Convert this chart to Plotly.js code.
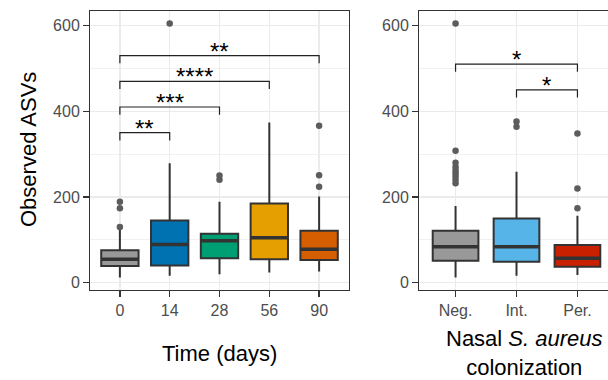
<!DOCTYPE html>
<html><head><meta charset="utf-8">
<script src="https://cdn.plot.ly/plotly-3.0.1.min.js"></script>
<style>html,body{margin:0;padding:0;overflow:hidden;background:#fff}#chart{width:620px;height:380px}</style>
</head><body><div id="chart"></div>
<script>
// ---- Data: time panel ----
var timeCats = ['0', '14', '28', '56', '90'];
var timeColors = ['#999999', '#0072B2', '#009E73', '#E69F00', '#D55E00'];
var timeQ1  = [39, 40, 57, 55, 53];
var timeMed = [55, 89, 98, 105, 78];
var timeQ3  = [76, 145, 114, 185, 121];
var timeLo  = [12, 16, 20, 24, 26];
var timeHi  = [123, 279, 189, 374, 201];
var timeOutliers = [[189, 174, 130], [605], [250, 240], [], [366, 251, 224]];
var timeBrStart = [0, 0, 0, 0];
var timeBrEnd   = [1, 2, 3, 4];
var timeBrY     = [350, 410, 470, 530];
var timeBrLabel = ['**', '***', '****', '**'];

// ---- Data: colonization panel ----
var colCats = ['Neg.', 'Int.', 'Per.'];
var colColors = ['#999999', '#56B4E9', '#C92100'];
var colQ1  = [51, 49, 37];
var colMed = [84, 84, 57];
var colQ3  = [121, 150, 88];
var colLo  = [12, 16, 18];
var colHi  = [179, 259, 156];
var colOutliers = [[605, 308, 280, 270, 262, 255, 248, 240, 232], [376, 364], [348, 220, 174]];
var colBrStart = [0, 1];
var colBrEnd   = [2, 2];
var colBrY     = [510, 450];
var colBrLabel = ['*', '*'];

var FONT = 'Liberation Sans, Arial, Helvetica, sans-serif';
var BOXW = 0.75, TIP = 18;
var traces = [], annotations = [];

function panel(cats, colors, q1, med, q3, lo, hi, outl, bs, be, by, bl, xa, ya) {
  for (var i = 0; i < cats.length; i++) {
    traces.push({type: 'box', x: [i], q1: [q1[i]], median: [med[i]], q3: [q3[i]],
      lowerfence: [lo[i]], upperfence: [hi[i]], width: BOXW, whiskerwidth: 0,
      fillcolor: colors[i], line: {color: '#333333', width: 2}, boxpoints: false,
      xaxis: xa, yaxis: ya, showlegend: false, hoverinfo: 'skip'});
    traces.push({type: 'scatter', mode: 'lines', x: [i - BOXW / 2, i + BOXW / 2], y: [med[i], med[i]],
      line: {color: '#333333', width: 3.5}, xaxis: xa, yaxis: ya, showlegend: false, hoverinfo: 'skip'});
    if (outl[i].length) {
      traces.push({type: 'scatter', mode: 'markers', x: outl[i].map(function () { return i; }), y: outl[i],
        marker: {color: '#5c5c5c', size: 6.5}, xaxis: xa, yaxis: ya, showlegend: false, hoverinfo: 'skip'});
    }
  }
  for (var k = 0; k < bs.length; k++) {
    traces.push({type: 'scatter', mode: 'lines', x: [bs[k], bs[k], be[k], be[k]],
      y: [by[k] - TIP, by[k], by[k], by[k] - TIP], line: {color: '#222222', width: 1.2},
      xaxis: xa, yaxis: ya, showlegend: false, hoverinfo: 'skip'});
    annotations.push({text: bl[k], x: (bs[k] + be[k]) / 2, y: by[k], xref: xa, yref: ya,
      showarrow: false, yanchor: 'bottom', yshift: -11, font: {family: FONT, size: 24, color: '#000'}});
  }
}
panel(timeCats, timeColors, timeQ1, timeMed, timeQ3, timeLo, timeHi, timeOutliers,
      timeBrStart, timeBrEnd, timeBrY, timeBrLabel, 'x', 'y');
panel(colCats, colColors, colQ1, colMed, colQ3, colLo, colHi, colOutliers,
      colBrStart, colBrEnd, colBrY, colBrLabel, 'x2', 'y2');

var W = 620, H = 380;
function xax(dom, cats, anchor) {
  return {domain: dom, range: [-0.6, cats.length - 0.4], tickmode: 'array',
    tickvals: cats.map(function (c, i) { return i; }), ticktext: cats,
    showgrid: true, gridcolor: '#EBEBEB', gridwidth: 1.4, zeroline: false,
    ticks: 'outside', ticklen: 6, tickwidth: 1.4, tickcolor: '#333333',
    showline: true, mirror: true, linecolor: '#333333', linewidth: 1,
    tickfont: {family: FONT, size: 16, color: '#4D4D4D'}, anchor: anchor, fixedrange: true};
}
function yax(anchor) {
  return {domain: [90 / H, 369 / H], range: [-17, 634], tick0: 0, dtick: 200,
    minor: {dtick: 100, showgrid: true, gridcolor: '#EBEBEB', gridwidth: 0.7},
    showgrid: true, gridcolor: '#EBEBEB', gridwidth: 1.4, zeroline: false,
    ticks: 'outside', ticklen: 6, tickwidth: 1.4, tickcolor: '#333333',
    showline: true, mirror: true, linecolor: '#333333', linewidth: 1,
    tickfont: {family: FONT, size: 16, color: '#4D4D4D'}, anchor: anchor, fixedrange: true};
}

annotations.push({text: 'Observed ASVs', x: 28 / W, y: (H - 150) / H, xref: 'paper', yref: 'paper',
  textangle: -90, showarrow: false, xanchor: 'center', yanchor: 'middle',
  font: {family: FONT, size: 22, color: '#000'}});
annotations.push({text: 'Time (days)', x: 219.5 / W, y: (H - 353) / H, xref: 'paper', yref: 'paper',
  showarrow: false, xanchor: 'center', yanchor: 'middle', font: {family: FONT, size: 22, color: '#000'}});
annotations.push({text: 'Nasal <i>S. aureus</i><br>colonization', x: 524 / W, y: (H - 353) / H,
  xref: 'paper', yref: 'paper', showarrow: false, xanchor: 'center', yanchor: 'middle',
  font: {family: FONT, size: 22, color: '#000'}});

var layout = {width: W, height: H, margin: {l: 0, r: 0, t: 0, b: 0},
  paper_bgcolor: '#fff', plot_bgcolor: '#fff', boxmode: 'overlay', showlegend: false,
  xaxis: xax([90 / W, 349 / W], timeCats, 'y'), yaxis: yax('x'),
  xaxis2: xax([419 / W, 614 / W], colCats, 'y2'), yaxis2: yax('x2'),
  annotations: annotations, font: {family: FONT}};

Plotly.newPlot('chart', traces, layout, {displayModeBar: false, staticPlot: true});
</script></body></html>
